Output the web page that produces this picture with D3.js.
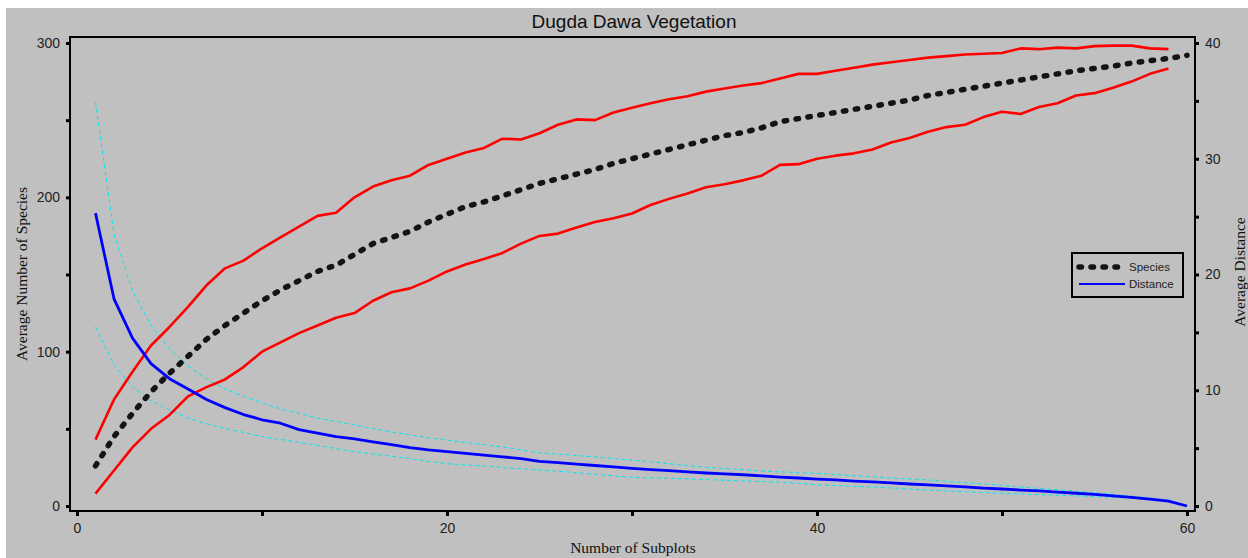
<!DOCTYPE html>
<html>
<head>
<meta charset="utf-8">
<script src="https://cdn.jsdelivr.net/npm/d3@7/dist/d3.min.js"></script>
<style>
  html, body { margin: 0; padding: 0; background: #ffffff; }
  svg { display: block; }
</style>
</head>
<body>
<svg id="chart" width="1248" height="558"></svg>
<script>
// ---------------- DATA ----------------
const chartTitle = "Dugda Dawa Vegetation";
const xLabel = "Number of Subplots";
const yLeftLabel = "Average Number of Species";
const yRightLabel = "Average Distance";
const legendLabels = ["Species", "Distance"];

const xTicks = [0, 10, 20, 30, 40, 50, 60];
const xTickLabels = [0, 20, 40, 60];
const yLeftTicks = [0, 50, 100, 150, 200, 250, 300];
const yLeftTickLabels = [0, 100, 200, 300];
const yRightTicks = [0, 5, 10, 15, 20, 25, 30, 35, 40];
const yRightTickLabels = [0, 10, 20, 30, 40];

// Average number of species, subplots 1..60
const species = [26, 45, 60, 74, 86, 97, 108, 117, 125, 133,
  140, 146, 152, 156, 163, 170, 174, 178, 184, 189,
  194, 197, 201, 205, 209, 212, 215, 218, 222, 225,
  228, 231, 234, 237, 240, 242, 245, 249, 251, 253,
  255, 257, 259, 261, 263, 266, 268, 270, 272, 274,
  276, 278, 280, 282, 283.5, 285, 287, 288.5, 290, 292];

// Upper and lower species bounds, subplots 1..59
const speciesUpper = [43, 69, 87, 104, 116, 129, 143, 154, 159, 167,
  174, 181, 188, 190, 200, 207, 211, 214, 221, 225,
  229, 232, 238, 237.5, 241.5, 247, 250.5, 250, 255, 258,
  261, 263.5, 265.5, 268.5, 270.5, 272.5, 274, 277, 280, 280,
  282, 284, 286, 287.5, 289, 290.5, 291.5, 292.5, 293, 293.5,
  296.5, 296, 297, 296.5, 298, 298.3, 298.3, 296.5, 296];
const speciesLower = [8, 23, 38, 50, 59, 71, 77, 82, 90, 100,
  106, 112, 117, 122, 125, 133, 138.5, 141, 146, 152,
  156.5, 160, 164, 170, 175, 176.5, 180.5, 184, 186.5, 189.5,
  195, 199, 202.5, 206.5, 208.5, 211, 214, 221, 221.5, 225,
  227, 228.5, 231, 235.5, 238.5, 242.5, 245.5, 247, 252, 255.5,
  254, 258.5, 261, 266, 267.5, 271, 275, 280, 283.5];

// Average distance, subplots 1..60
const distance = [25.3, 17.9, 14.5, 12.3, 11.0, 10.1, 9.2, 8.5, 7.9, 7.45,
  7.15, 6.6, 6.3, 6.0, 5.8, 5.55, 5.3, 5.05, 4.85, 4.7,
  4.55, 4.4, 4.25, 4.1, 3.85, 3.75, 3.62, 3.5, 3.38, 3.25,
  3.15, 3.05, 2.95, 2.85, 2.78, 2.7, 2.6, 2.5, 2.42, 2.33,
  2.25, 2.15, 2.08, 2.0, 1.9, 1.82, 1.74, 1.65, 1.55, 1.47,
  1.38, 1.3, 1.2, 1.1, 1.0, 0.88, 0.75, 0.6, 0.42, 0];

// Upper and lower distance bounds, subplots 1..59
const distanceUpper = [34.9, 23.5, 18.6, 15.6, 13.6, 12.1, 11.0, 10.1, 9.5, 8.9,
  8.4, 8.0, 7.6, 7.3, 7.0, 6.7, 6.4, 6.15, 5.9, 5.7,
  5.5, 5.3, 5.1, 4.85, 4.6, 4.48, 4.36, 4.24, 4.1, 3.95,
  3.82, 3.66, 3.5, 3.34, 3.24, 3.14, 3.02, 2.95, 2.88, 2.82,
  2.72, 2.62, 2.52, 2.42, 2.34, 2.25, 2.13, 2.02, 1.9, 1.78,
  1.65, 1.52, 1.4, 1.27, 1.15, 1.0, 0.85, 0.68, 0.5];
const distanceLower = [15.5, 12.2, 10.3, 9.1, 8.3, 7.6, 7.1, 6.7, 6.35, 6.0,
  5.75, 5.5, 5.25, 4.95, 4.7, 4.5, 4.3, 4.1, 3.85, 3.65,
  3.55, 3.45, 3.33, 3.22, 3.11, 3.0, 2.88, 2.74, 2.6, 2.48,
  2.44, 2.4, 2.34, 2.28, 2.22, 2.17, 2.12, 2.05, 1.95, 1.83,
  1.77, 1.7, 1.64, 1.56, 1.46, 1.37, 1.3, 1.23, 1.16, 1.1,
  1.04, 0.98, 0.93, 0.87, 0.82, 0.75, 0.67, 0.56, 0.45];

// ---------------- LAYOUT ----------------
const W = 1248, H = 558;
const frame = { left: 70, right: 1195, top: 37, bottom: 511 };
const svg = d3.select("#chart");
const sansFont = "'Liberation Sans', Arial, sans-serif";
const serifFont = "'Liberation Serif', 'Times New Roman', serif";

// background
svg.append("rect").attr("x", 0).attr("y", 0).attr("width", W).attr("height", H).attr("fill", "#ffffff");
svg.append("rect").attr("x", 6).attr("y", 8).attr("width", W - 6).attr("height", H - 8).attr("fill", "#c0c0c0");

// scales
const x = d3.scaleLinear().domain([0, 60]).range([77, 1187]);
const yL = d3.scaleLinear().domain([0, 300]).range([506, 43]);
const yR = d3.scaleLinear().domain([0, 40]).range([506, 43]);

const pts = arr => arr.map((v, i) => [i + 1, v]);
const lineL = d3.line().x(d => x(d[0])).y(d => yL(d[1]));
const lineR = d3.line().x(d => x(d[0])).y(d => yR(d[1]));

const plot = svg.append("g");

// cyan dashed distance bounds
[distanceUpper, distanceLower].forEach(arr => {
  plot.append("path").datum(pts(arr)).attr("d", lineR)
    .attr("fill", "none").attr("stroke", "#00e8f0").attr("stroke-width", 1)
    .attr("stroke-dasharray", "4,3");
});

// red species bounds
[speciesUpper, speciesLower].forEach(arr => {
  plot.append("path").datum(pts(arr)).attr("d", lineL)
    .attr("fill", "none").attr("stroke", "#ff0000").attr("stroke-width", 2.6)
    .attr("stroke-linejoin", "round");
});

// blue distance
plot.append("path").datum(pts(distance)).attr("d", lineR)
  .attr("fill", "none").attr("stroke", "#0000ff").attr("stroke-width", 2.8)
  .attr("stroke-linejoin", "round");

// black dotted species
plot.append("path").datum(pts(species)).attr("d", lineL)
  .attr("fill", "none").attr("stroke", "#141414").attr("stroke-width", 5.5)
  .attr("stroke-linecap", "round").attr("stroke-dasharray", "2.5,9.5");

// frame
svg.append("path")
  .attr("d", `M${frame.left},${frame.bottom}V${frame.top}H${frame.right}V${frame.bottom}Z`)
  .attr("fill", "none").attr("stroke", "#000").attr("stroke-width", 2);

// axes
function styleAxis(g) {
  g.select(".domain").remove();
  g.selectAll(".tick line").attr("stroke", "#000").attr("stroke-width", 3);
  g.selectAll(".tick text").attr("fill", "#222").attr("font-family", sansFont).attr("font-size", 14);
}

svg.append("g").attr("transform", `translate(0,${frame.bottom})`)
  .call(d3.axisBottom(x).tickValues(xTicks).tickSize(5).tickPadding(7)
    .tickFormat(d => xTickLabels.includes(d) ? d : ""))
  .call(styleAxis);

svg.append("g").attr("transform", `translate(${frame.left},0)`)
  .call(d3.axisLeft(yL).tickValues(yLeftTicks).tickSize(4).tickPadding(6)
    .tickFormat(d => yLeftTickLabels.includes(d) ? d : ""))
  .call(styleAxis);

svg.append("g").attr("transform", `translate(${frame.right},0)`)
  .call(d3.axisRight(yR).tickValues(yRightTicks).tickSize(4).tickPadding(6)
    .tickFormat(d => yRightTickLabels.includes(d) ? d : ""))
  .call(styleAxis);

// title
svg.append("text").attr("x", 634).attr("y", 28).attr("text-anchor", "middle")
  .attr("font-family", sansFont).attr("font-size", 19).attr("fill", "#111")
  .text(chartTitle);

// axis titles
svg.append("text").attr("x", 633).attr("y", 553).attr("text-anchor", "middle")
  .attr("font-family", serifFont).attr("font-size", 15.5).attr("fill", "#111")
  .text(xLabel);
svg.append("text").attr("transform", "translate(27,274) rotate(-90)").attr("text-anchor", "middle")
  .attr("font-family", serifFont).attr("font-size", 15.5).attr("fill", "#111")
  .text(yLeftLabel);
svg.append("text").attr("transform", "translate(1245,272) rotate(-90)").attr("text-anchor", "middle")
  .attr("font-family", serifFont).attr("font-size", 15.5).attr("fill", "#111")
  .text(yRightLabel);

// legend
const lg = svg.append("g");
lg.append("rect").attr("x", 1072).attr("y", 253).attr("width", 111).attr("height", 44)
  .attr("fill", "#c0c0c0").attr("stroke", "#000").attr("stroke-width", 2);
lg.append("line").attr("x1", 1079).attr("x2", 1124).attr("y1", 267).attr("y2", 267)
  .attr("stroke", "#141414").attr("stroke-width", 5.5).attr("stroke-linecap", "round")
  .attr("stroke-dasharray", "2.5,9.5");
lg.append("line").attr("x1", 1079).attr("x2", 1125).attr("y1", 284).attr("y2", 284)
  .attr("stroke", "#0000ff").attr("stroke-width", 2.2);
lg.selectAll("text.lab").data(legendLabels).enter().append("text")
  .attr("x", 1129).attr("y", (d, i) => 271 + i * 17)
  .attr("font-family", sansFont).attr("font-size", 11.5).attr("fill", "#222")
  .text(d => d);
</script>
</body>
</html>
